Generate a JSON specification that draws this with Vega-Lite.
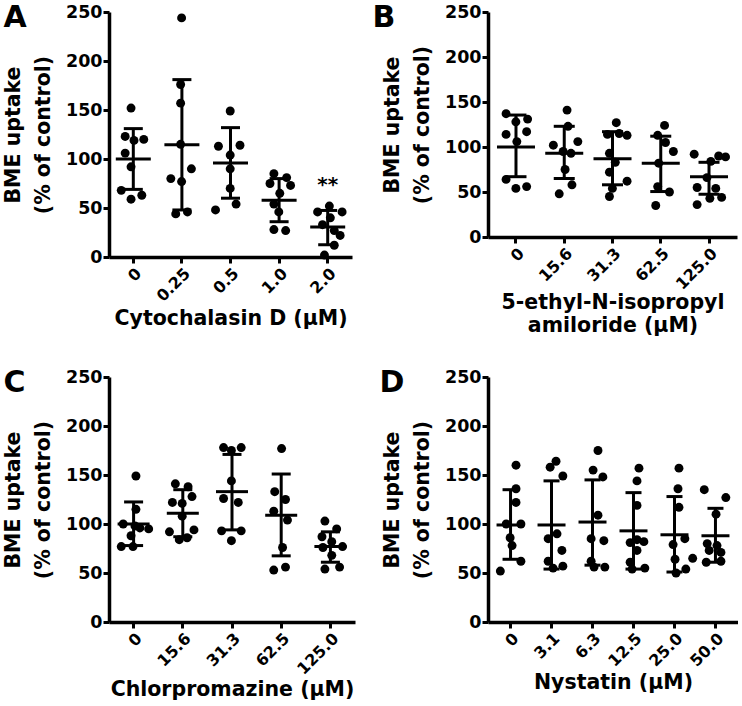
{
  "$schema": "https://vega.github.io/schema/vega-lite/v6.json",
  "padding": {"left": 3, "top": 2, "right": 0, "bottom": 0},
  "background": "white",
  "columns": 2,
  "bounds": "flush",
  "align": "all",
  "spacing": {"row": 120, "column": 129},
  "config": {
    "font": "DejaVu Sans",
    "view": {"stroke": null},
    "axis": {"domainColor": "black", "domainWidth": 3.5, "tickColor": "black", "tickWidth": 3, "tickSize": 6, "labelFont": "DejaVu Sans", "labelFontWeight": "bold", "labelColor": "black", "titleFont": "DejaVu Sans", "titleFontWeight": "bold", "titleFontSize": 20.5, "titleColor": "black", "grid": false},
    "axisX": {"labelAngle": -45, "labelFontSize": 16, "labelPadding": 2, "titlePadding": 4, "titleLineHeight": 23},
    "axisY": {"labelFontSize": 17.5, "labelPadding": 1, "titlePadding": 12, "titleLineHeight": 30},
    "title": {"font": "DejaVu Sans", "fontSize": 30, "fontWeight": "bold", "anchor": "start", "frame": "bounds", "color": "black", "offset": 0}
  },
  "datasets": {
    "A": [
      {"conc": "0", "v": 152, "dx": -2}, {"conc": "0", "v": 123, "dx": -8}, {"conc": "0", "v": 119, "dx": 1}, {"conc": "0", "v": 120, "dx": 11}, {"conc": "0", "v": 106, "dx": -8}, {"conc": "0", "v": 92, "dx": -2}, {"conc": "0", "v": 68, "dx": -12}, {"conc": "0", "v": 59, "dx": -2}, {"conc": "0", "v": 63, "dx": 9},
      {"conc": "0.25", "v": 244, "dx": 0}, {"conc": "0.25", "v": 176, "dx": -1}, {"conc": "0.25", "v": 157, "dx": -1}, {"conc": "0.25", "v": 115, "dx": -1}, {"conc": "0.25", "v": 90, "dx": 10}, {"conc": "0.25", "v": 80, "dx": -11}, {"conc": "0.25", "v": 77, "dx": 0}, {"conc": "0.25", "v": 44, "dx": -6}, {"conc": "0.25", "v": 46, "dx": 6},
      {"conc": "0.5", "v": 149, "dx": 0}, {"conc": "0.5", "v": 113, "dx": -12}, {"conc": "0.5", "v": 114, "dx": 10}, {"conc": "0.5", "v": 104, "dx": 0}, {"conc": "0.5", "v": 90, "dx": 0}, {"conc": "0.5", "v": 70, "dx": 0}, {"conc": "0.5", "v": 48, "dx": -15}, {"conc": "0.5", "v": 54, "dx": 6},
      {"conc": "1.0", "v": 85, "dx": -5}, {"conc": "1.0", "v": 81, "dx": 8}, {"conc": "1.0", "v": 75, "dx": -9}, {"conc": "1.0", "v": 73, "dx": 12}, {"conc": "1.0", "v": 65, "dx": 1}, {"conc": "1.0", "v": 54, "dx": -5}, {"conc": "1.0", "v": 46, "dx": 0}, {"conc": "1.0", "v": 28, "dx": -5}, {"conc": "1.0", "v": 27, "dx": 7},
      {"conc": "2.0", "v": 52, "dx": 2}, {"conc": "2.0", "v": 46, "dx": -10}, {"conc": "2.0", "v": 46, "dx": 15}, {"conc": "2.0", "v": 40, "dx": 3}, {"conc": "2.0", "v": 33, "dx": -5}, {"conc": "2.0", "v": 27, "dx": 7}, {"conc": "2.0", "v": 22, "dx": 13}, {"conc": "2.0", "v": 12, "dx": 7}, {"conc": "2.0", "v": 2, "dx": -3}
    ],
    "Asum": [
      {"conc": "0", "mean": 100, "lo": 69, "hi": 131},
      {"conc": "0.25", "mean": 114.5, "lo": 48, "hi": 181},
      {"conc": "0.5", "mean": 96, "lo": 60, "hi": 132},
      {"conc": "1.0", "mean": 58, "lo": 36, "hi": 80},
      {"conc": "2.0", "mean": 30.5, "lo": 12.5, "hi": 47.5}
    ],
    "Aann": [{"conc": "2.0", "y": 73, "label": "**"}],
    "B": [
      {"conc": "0", "v": 137, "dx": -10}, {"conc": "0", "v": 131, "dx": 12}, {"conc": "0", "v": 128, "dx": 0}, {"conc": "0", "v": 114, "dx": -10}, {"conc": "0", "v": 117, "dx": 11}, {"conc": "0", "v": 106, "dx": 1}, {"conc": "0", "v": 64, "dx": -10}, {"conc": "0", "v": 54, "dx": 0}, {"conc": "0", "v": 56, "dx": 11},
      {"conc": "15.6", "v": 141, "dx": 3}, {"conc": "15.6", "v": 123, "dx": 4}, {"conc": "15.6", "v": 102, "dx": -11}, {"conc": "15.6", "v": 106, "dx": 14}, {"conc": "15.6", "v": 95, "dx": -1}, {"conc": "15.6", "v": 93, "dx": 7}, {"conc": "15.6", "v": 75, "dx": 1}, {"conc": "15.6", "v": 58, "dx": 8}, {"conc": "15.6", "v": 48, "dx": -5},
      {"conc": "31.3", "v": 127, "dx": 4}, {"conc": "31.3", "v": 114, "dx": -5}, {"conc": "31.3", "v": 115, "dx": 7}, {"conc": "31.3", "v": 113, "dx": 15}, {"conc": "31.3", "v": 93, "dx": -3}, {"conc": "31.3", "v": 83, "dx": 3}, {"conc": "31.3", "v": 72, "dx": -3}, {"conc": "31.3", "v": 62, "dx": 15}, {"conc": "31.3", "v": 54, "dx": 0}, {"conc": "31.3", "v": 45, "dx": -3},
      {"conc": "62.5", "v": 124, "dx": 4}, {"conc": "62.5", "v": 113, "dx": -3}, {"conc": "62.5", "v": 105, "dx": 5}, {"conc": "62.5", "v": 95, "dx": 13}, {"conc": "62.5", "v": 82, "dx": -2}, {"conc": "62.5", "v": 56, "dx": -3}, {"conc": "62.5", "v": 50, "dx": 9}, {"conc": "62.5", "v": 35, "dx": -5},
      {"conc": "125.0", "v": 92, "dx": -15}, {"conc": "125.0", "v": 90, "dx": 10}, {"conc": "125.0", "v": 89, "dx": 17}, {"conc": "125.0", "v": 84, "dx": 2}, {"conc": "125.0", "v": 66, "dx": -2}, {"conc": "125.0", "v": 55, "dx": -12}, {"conc": "125.0", "v": 54, "dx": 7}, {"conc": "125.0", "v": 44, "dx": 13}, {"conc": "125.0", "v": 43, "dx": 1}, {"conc": "125.0", "v": 36, "dx": -12}
    ],
    "Bsum": [
      {"conc": "0", "mean": 100, "lo": 67, "hi": 135.5},
      {"conc": "15.6", "mean": 93, "lo": 65, "hi": 123},
      {"conc": "31.3", "mean": 87, "lo": 58, "hi": 117},
      {"conc": "62.5", "mean": 82, "lo": 50.5, "hi": 112},
      {"conc": "125.0", "mean": 67, "lo": 47.5, "hi": 83}
    ],
    "C": [
      {"conc": "0", "v": 149, "dx": 3}, {"conc": "0", "v": 115, "dx": 3}, {"conc": "0", "v": 100, "dx": -10}, {"conc": "0", "v": 98, "dx": 2}, {"conc": "0", "v": 96, "dx": 7}, {"conc": "0", "v": 95, "dx": 16}, {"conc": "0", "v": 88, "dx": -2}, {"conc": "0", "v": 77, "dx": -12}, {"conc": "0", "v": 77, "dx": 0},
      {"conc": "15.6", "v": 141, "dx": -7}, {"conc": "15.6", "v": 138, "dx": 6}, {"conc": "15.6", "v": 128, "dx": 10}, {"conc": "15.6", "v": 122, "dx": -10}, {"conc": "15.6", "v": 121, "dx": 0}, {"conc": "15.6", "v": 108, "dx": 0}, {"conc": "15.6", "v": 94, "dx": 12}, {"conc": "15.6", "v": 92, "dx": -13}, {"conc": "15.6", "v": 84, "dx": -3}, {"conc": "15.6", "v": 86, "dx": 5},
      {"conc": "31.3", "v": 178, "dx": -8}, {"conc": "31.3", "v": 178, "dx": 10}, {"conc": "31.3", "v": 175, "dx": 0}, {"conc": "31.3", "v": 144, "dx": 0}, {"conc": "31.3", "v": 126, "dx": -8}, {"conc": "31.3", "v": 122, "dx": 7}, {"conc": "31.3", "v": 93, "dx": -10}, {"conc": "31.3", "v": 93, "dx": 10}, {"conc": "31.3", "v": 83, "dx": 0},
      {"conc": "62.5", "v": 177, "dx": 1}, {"conc": "62.5", "v": 133, "dx": -6}, {"conc": "62.5", "v": 125, "dx": 5}, {"conc": "62.5", "v": 113, "dx": -7}, {"conc": "62.5", "v": 104, "dx": 7}, {"conc": "62.5", "v": 76, "dx": 2}, {"conc": "62.5", "v": 56, "dx": 5}, {"conc": "62.5", "v": 53, "dx": -7},
      {"conc": "125.0", "v": 103, "dx": -5}, {"conc": "125.0", "v": 95, "dx": 7}, {"conc": "125.0", "v": 87, "dx": -8}, {"conc": "125.0", "v": 82, "dx": 2}, {"conc": "125.0", "v": 77, "dx": 13}, {"conc": "125.0", "v": 76, "dx": -7}, {"conc": "125.0", "v": 68, "dx": 2}, {"conc": "125.0", "v": 56, "dx": 10}, {"conc": "125.0", "v": 54, "dx": -5}
    ],
    "Csum": [
      {"conc": "0", "mean": 100, "lo": 78, "hi": 122.5},
      {"conc": "15.6", "mean": 111, "lo": 87, "hi": 135},
      {"conc": "31.3", "mean": 133, "lo": 94, "hi": 171},
      {"conc": "62.5", "mean": 109, "lo": 67.5, "hi": 151},
      {"conc": "125.0", "mean": 77, "lo": 61, "hi": 92}
    ],
    "D": [
      {"conc": "0", "v": 160, "dx": 2}, {"conc": "0", "v": 136, "dx": 2}, {"conc": "0", "v": 122, "dx": 2}, {"conc": "0", "v": 100, "dx": -8}, {"conc": "0", "v": 100, "dx": 7}, {"conc": "0", "v": 86, "dx": -4}, {"conc": "0", "v": 78, "dx": -2}, {"conc": "0", "v": 62, "dx": 7}, {"conc": "0", "v": 52, "dx": -14},
      {"conc": "3.1", "v": 164, "dx": 1}, {"conc": "3.1", "v": 158, "dx": -5}, {"conc": "3.1", "v": 149, "dx": 8}, {"conc": "3.1", "v": 90, "dx": 2}, {"conc": "3.1", "v": 85, "dx": -7}, {"conc": "3.1", "v": 73, "dx": 7}, {"conc": "3.1", "v": 62, "dx": -7}, {"conc": "3.1", "v": 57, "dx": 8}, {"conc": "3.1", "v": 55, "dx": -2},
      {"conc": "6.3", "v": 175, "dx": 2}, {"conc": "6.3", "v": 155, "dx": -3}, {"conc": "6.3", "v": 148, "dx": 7}, {"conc": "6.3", "v": 109, "dx": 2}, {"conc": "6.3", "v": 85, "dx": -5}, {"conc": "6.3", "v": 83, "dx": 8}, {"conc": "6.3", "v": 62, "dx": -5}, {"conc": "6.3", "v": 56, "dx": -2}, {"conc": "6.3", "v": 56, "dx": 9},
      {"conc": "12.5", "v": 157, "dx": 2}, {"conc": "12.5", "v": 144, "dx": 0}, {"conc": "12.5", "v": 119, "dx": 0}, {"conc": "12.5", "v": 84, "dx": 0}, {"conc": "12.5", "v": 82, "dx": 7}, {"conc": "12.5", "v": 81, "dx": -7}, {"conc": "12.5", "v": 73, "dx": 0}, {"conc": "12.5", "v": 61, "dx": -7}, {"conc": "12.5", "v": 55, "dx": 8}, {"conc": "12.5", "v": 54, "dx": -5},
      {"conc": "25.0", "v": 157, "dx": 1}, {"conc": "25.0", "v": 136, "dx": 0}, {"conc": "25.0", "v": 117, "dx": 1}, {"conc": "25.0", "v": 85, "dx": 7}, {"conc": "25.0", "v": 79, "dx": -5}, {"conc": "25.0", "v": 65, "dx": 15}, {"conc": "25.0", "v": 64, "dx": -3}, {"conc": "25.0", "v": 54, "dx": 8}, {"conc": "25.0", "v": 50, "dx": -2},
      {"conc": "50.0", "v": 135, "dx": -15}, {"conc": "50.0", "v": 127, "dx": 7}, {"conc": "50.0", "v": 110, "dx": -3}, {"conc": "50.0", "v": 80, "dx": -12}, {"conc": "50.0", "v": 78, "dx": -2}, {"conc": "50.0", "v": 73, "dx": -10}, {"conc": "50.0", "v": 71, "dx": 2}, {"conc": "50.0", "v": 62, "dx": 2}, {"conc": "50.0", "v": 61, "dx": -13}
    ],
    "Dsum": [
      {"conc": "0", "mean": 99, "lo": 64, "hi": 135},
      {"conc": "3.1", "mean": 99, "lo": 54, "hi": 144},
      {"conc": "6.3", "mean": 102, "lo": 58, "hi": 145},
      {"conc": "12.5", "mean": 93, "lo": 54, "hi": 132},
      {"conc": "25.0", "mean": 89, "lo": 51, "hi": 128},
      {"conc": "50.0", "mean": 88, "lo": 61, "hi": 116}
    ]
  },
  "concat": [
    {
      "width": 243, "height": 245,
      "title": {"text": "A", "dy": 33.5},
      "encoding": {
        "x": {"field": "conc", "type": "nominal", "scale": {"type": "band", "domain": ["0", "0.25", "0.5", "1.0", "2.0"], "paddingInner": 0, "paddingOuter": 0}, "axis": {"title": "Cytochalasin D (μM)"}}
      },
      "layer": [
        {"data": {"name": "Asum"}, "mark": {"type": "rule", "strokeWidth": 3, "color": "black"}, "encoding": {"y": {"field": "lo", "type": "quantitative", "scale": {"domain": [0, 250], "nice": false}, "axis": {"values": [0, 50, 100, 150, 200, 250], "title": ["BME uptake", "(% of control)"]}}, "y2": {"field": "hi"}}},
        {"data": {"name": "Asum"}, "mark": {"type": "tick", "thickness": 3, "size": 35, "color": "black", "opacity": 1}, "encoding": {"y": {"field": "mean", "type": "quantitative"}}},
        {"data": {"name": "Asum"}, "mark": {"type": "tick", "thickness": 3, "size": 19, "color": "black", "opacity": 1}, "encoding": {"y": {"field": "hi", "type": "quantitative"}}},
        {"data": {"name": "Asum"}, "mark": {"type": "tick", "thickness": 3, "size": 19, "color": "black", "opacity": 1}, "encoding": {"y": {"field": "lo", "type": "quantitative"}}},
        {"data": {"name": "A"}, "mark": {"type": "circle", "size": 80, "color": "black", "opacity": 1}, "encoding": {"xOffset": {"field": "dx", "type": "quantitative", "scale": {"domain": [-24, 24], "range": [0, 48]}}, "y": {"field": "v", "type": "quantitative"}}},
        {"data": {"name": "Aann"}, "mark": {"type": "text", "fontSize": 20, "fontWeight": "bold", "color": "black", "baseline": "middle"}, "encoding": {"y": {"field": "y", "type": "quantitative"}, "text": {"field": "label"}}}
      ]
    },
    {
      "width": 249, "height": 225,
      "title": {"text": "B", "dy": 33.5, "dx": -10},
      "encoding": {
        "x": {"field": "conc", "type": "nominal", "scale": {"type": "band", "domain": ["0", "15.6", "31.3", "62.5", "125.0"], "paddingInner": 0, "paddingOuter": 0.08}, "axis": {"title": ["5-ethyl-N-isopropyl", "amiloride (μM)"], "titlePadding": 0}}
      },
      "layer": [
        {"data": {"name": "Bsum"}, "mark": {"type": "rule", "strokeWidth": 3, "color": "black"}, "encoding": {"y": {"field": "lo", "type": "quantitative", "scale": {"domain": [0, 250], "nice": false}, "axis": {"values": [0, 50, 100, 150, 200, 250], "title": ["BME uptake", "(% of control)"]}}, "y2": {"field": "hi"}}},
        {"data": {"name": "Bsum"}, "mark": {"type": "tick", "thickness": 3, "size": 38, "color": "black", "opacity": 1}, "encoding": {"y": {"field": "mean", "type": "quantitative"}}},
        {"data": {"name": "Bsum"}, "mark": {"type": "tick", "thickness": 3, "size": 21, "color": "black", "opacity": 1}, "encoding": {"y": {"field": "hi", "type": "quantitative"}}},
        {"data": {"name": "Bsum"}, "mark": {"type": "tick", "thickness": 3, "size": 21, "color": "black", "opacity": 1}, "encoding": {"y": {"field": "lo", "type": "quantitative"}}},
        {"data": {"name": "B"}, "mark": {"type": "circle", "size": 80, "color": "black", "opacity": 1}, "encoding": {"xOffset": {"field": "dx", "type": "quantitative", "scale": {"domain": [-24, 24], "range": [0, 48]}}, "y": {"field": "v", "type": "quantitative"}}}
      ]
    },
    {
      "width": 246, "height": 245,
      "title": {"text": "C", "dy": 33.5},
      "encoding": {
        "x": {"field": "conc", "type": "nominal", "scale": {"type": "band", "domain": ["0", "15.6", "31.3", "62.5", "125.0"], "paddingInner": 0, "paddingOuter": 0}, "axis": {"title": "Chlorpromazine (μM)", "titlePadding": 2}}
      },
      "layer": [
        {"data": {"name": "Csum"}, "mark": {"type": "rule", "strokeWidth": 3, "color": "black"}, "encoding": {"y": {"field": "lo", "type": "quantitative", "scale": {"domain": [0, 250], "nice": false}, "axis": {"values": [0, 50, 100, 150, 200, 250], "title": ["BME uptake", "(% of control)"]}}, "y2": {"field": "hi"}}},
        {"data": {"name": "Csum"}, "mark": {"type": "tick", "thickness": 3, "size": 32, "color": "black", "opacity": 1}, "encoding": {"y": {"field": "mean", "type": "quantitative"}}},
        {"data": {"name": "Csum"}, "mark": {"type": "tick", "thickness": 3, "size": 19, "color": "black", "opacity": 1}, "encoding": {"y": {"field": "hi", "type": "quantitative"}}},
        {"data": {"name": "Csum"}, "mark": {"type": "tick", "thickness": 3, "size": 19, "color": "black", "opacity": 1}, "encoding": {"y": {"field": "lo", "type": "quantitative"}}},
        {"data": {"name": "C"}, "mark": {"type": "circle", "size": 80, "color": "black", "opacity": 1}, "encoding": {"xOffset": {"field": "dx", "type": "quantitative", "scale": {"domain": [-24.5, 24.5], "range": [0, 49]}}, "y": {"field": "v", "type": "quantitative"}}}
      ]
    },
    {
      "width": 250, "height": 245,
      "title": {"text": "D", "dy": 33.5, "dx": -3},
      "encoding": {
        "x": {"field": "conc", "type": "nominal", "scale": {"type": "band", "domain": ["0", "3.1", "6.3", "12.5", "25.0", "50.0"], "paddingInner": 0, "paddingOuter": 0.05}, "axis": {"title": "Nystatin (μM)", "titlePadding": 3}}
      },
      "layer": [
        {"data": {"name": "Dsum"}, "mark": {"type": "rule", "strokeWidth": 3, "color": "black"}, "encoding": {"y": {"field": "lo", "type": "quantitative", "scale": {"domain": [0, 250], "nice": false}, "axis": {"values": [0, 50, 100, 150, 200, 250], "title": ["BME uptake", "(% of control)"]}}, "y2": {"field": "hi"}}},
        {"data": {"name": "Dsum"}, "mark": {"type": "tick", "thickness": 3, "size": 28, "color": "black", "opacity": 1}, "encoding": {"y": {"field": "mean", "type": "quantitative"}}},
        {"data": {"name": "Dsum"}, "mark": {"type": "tick", "thickness": 3, "size": 16, "color": "black", "opacity": 1}, "encoding": {"y": {"field": "hi", "type": "quantitative"}}},
        {"data": {"name": "Dsum"}, "mark": {"type": "tick", "thickness": 3, "size": 16, "color": "black", "opacity": 1}, "encoding": {"y": {"field": "lo", "type": "quantitative"}}},
        {"data": {"name": "D"}, "mark": {"type": "circle", "size": 80, "color": "black", "opacity": 1}, "encoding": {"xOffset": {"field": "dx", "type": "quantitative", "scale": {"domain": [-20.5, 20.5], "range": [0, 41]}}, "y": {"field": "v", "type": "quantitative"}}}
      ]
    }
  ]
}
